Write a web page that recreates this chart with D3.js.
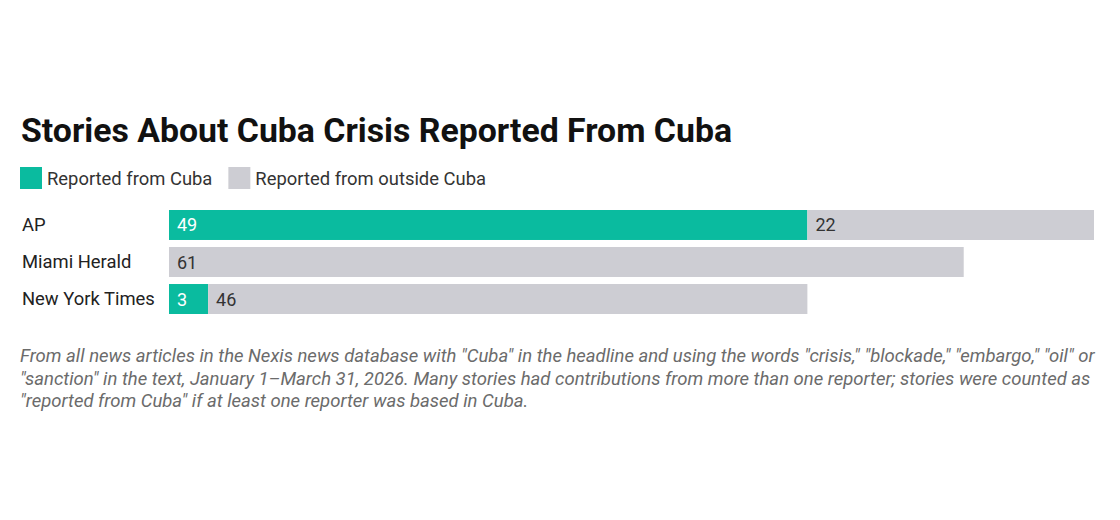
<!DOCTYPE html>
<html>
<head>
<meta charset="utf-8">
<script src="https://cdn.jsdelivr.net/npm/d3@7"></script>
<style>
  body { margin: 0; background: #fff; }
  text { font-family: Roboto, "Noto Sans", sans-serif; }
</style>
</head>
<body>
<script>
// data
const outlets = ["AP", "Miami Herald", "New York Times"];
const fromCuba = [49, 0, 3];
const fromOutside = [22, 61, 46];
const seriesNames = ["Reported from Cuba", "Reported from outside Cuba"];
const colors = ["#0abb9f", "#cdcdd3"];
const noteLines = [
  "From all news articles in the Nexis news database with \"Cuba\" in the headline and using the words \"crisis,\" \"blockade,\" \"embargo,\" \"oil\" or",
  "\"sanction\" in the text, January 1\u2013March 31, 2026. Many stories had contributions from more than one reporter; stories were counted as",
  "\"reported from Cuba\" if at least one reporter was based in Cuba."
];

const W = 1120, H = 520;
const svg = d3.select("body").append("svg").attr("width", W).attr("height", H);

svg.append("text").attr("x", 21).attr("y", 142)
  .attr("font-size", 33.8).attr("font-weight", 700).attr("fill", "#111")
  .text("Stories About Cuba Crisis Reported From Cuba");

// legend
let lx = 20;
seriesNames.forEach((name, i) => {
  svg.append("rect").attr("x", lx).attr("y", 167).attr("width", 22).attr("height", 22).attr("fill", colors[i]);
  const t = svg.append("text").attr("x", lx + 27).attr("y", 184.5)
    .attr("font-size", 18.4).attr("fill", "#333").text(name);
  lx += 27 + t.node().getComputedTextLength() + 16;
});

// stacked bars
const rows = outlets.map((o, i) => ({ outlet: o, cuba: fromCuba[i], outside: fromOutside[i] }));
const stack = d3.stack().keys(["cuba", "outside"])(rows);

const x = d3.scaleLinear().domain([0, d3.max(rows, d => d.cuba + d.outside)]).range([169, 1094]);
const y = d3.scaleBand().domain(outlets).range([210, 314]).paddingInner(0.19).paddingOuter(0);

svg.append("g").selectAll("text").data(outlets).join("text")
  .attr("x", 22).attr("y", d => y(d) + y.bandwidth() / 2 + 6)
  .attr("font-size", 18.4).attr("fill", "#222").text(d => d);

stack.forEach((layer, k) => {
  const g = svg.append("g");
  const segs = layer.filter(d => d[1] > d[0]);
  g.selectAll("rect").data(segs).join("rect")
    .attr("x", d => x(d[0])).attr("width", d => x(d[1]) - x(d[0]))
    .attr("y", d => y(d.data.outlet)).attr("height", y.bandwidth())
    .attr("fill", colors[k]);
  g.selectAll("text").data(segs).join("text")
    .attr("x", d => x(d[0]) + 8).attr("y", d => y(d.data.outlet) + y.bandwidth() / 2 + 6.5)
    .attr("font-size", 18).attr("fill", k === 0 ? "#fff" : "#333")
    .text(d => d[1] - d[0]);
});

// note
svg.append("g").selectAll("text").data(noteLines).join("text")
  .attr("x", 20).attr("y", (d, i) => 362 + i * 22.5)
  .attr("font-size", 18.5).attr("font-style", "italic").attr("fill", "#6b6b6b")
  .text(d => d);
</script>
</body>
</html>
